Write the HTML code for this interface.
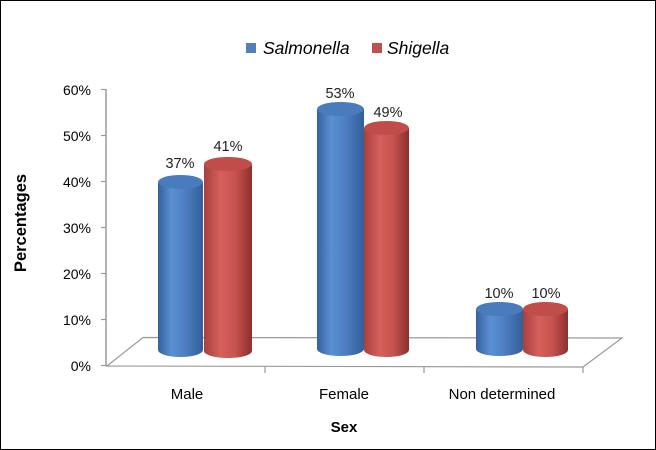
<!DOCTYPE html>
<html><head><meta charset="utf-8">
<style>
html,body{margin:0;padding:0;background:#fff;}
svg{display:block;}
text{font-family:"Liberation Sans",sans-serif;}
</style></head>
<body>
<svg width="656" height="450" viewBox="0 0 656 450" xmlns="http://www.w3.org/2000/svg">
<defs>
<linearGradient id="gb" x1="0" x2="1" y1="0" y2="0">
<stop offset="0" stop-color="#35619e"/>
<stop offset="0.3" stop-color="#5a8fd2"/>
<stop offset="0.55" stop-color="#4f83c6"/>
<stop offset="1" stop-color="#335e9a"/>
</linearGradient>
<linearGradient id="gr" x1="0" x2="1" y1="0" y2="0">
<stop offset="0" stop-color="#a8403d"/>
<stop offset="0.35" stop-color="#d4605c"/>
<stop offset="0.65" stop-color="#c8524f"/>
<stop offset="1" stop-color="#8a302e"/>
</linearGradient>
</defs>
<rect x="0.5" y="0.5" width="655" height="449" fill="#fff" stroke="#000" stroke-width="1"/>

<!-- floor -->
<polygon points="107,366 143,337.5 622,338 583,367" fill="#fff" stroke="#9a9a9a" stroke-width="1.2"/>
<!-- axis -->
<line x1="106" y1="89" x2="106" y2="366" stroke="#9a9a9a" stroke-width="1.5"/>
<g stroke="#9a9a9a" stroke-width="1.2">
<line x1="101" y1="89.5" x2="106" y2="89.5"/>
<line x1="101" y1="135.5" x2="106" y2="135.5"/>
<line x1="101" y1="181.5" x2="106" y2="181.5"/>
<line x1="101" y1="227.5" x2="106" y2="227.5"/>
<line x1="101" y1="273.5" x2="106" y2="273.5"/>
<line x1="101" y1="319.5" x2="106" y2="319.5"/>
<line x1="101" y1="365.5" x2="106" y2="365.5"/>
<line x1="265" y1="366" x2="265" y2="373"/>
<line x1="424" y1="366.5" x2="424" y2="373"/>
<line x1="583" y1="367" x2="583" y2="373"/>
</g>
<g font-size="14" fill="#000" text-anchor="end">
<text x="91" y="95">60%</text>
<text x="91" y="141">50%</text>
<text x="91" y="187">40%</text>
<text x="91" y="233">30%</text>
<text x="91" y="279">20%</text>
<text x="91" y="325">10%</text>
<text x="91" y="371">0%</text>
</g>

<!-- cylinders -->
<path d="M158,182 L158,350 A22.5,7 0 0 0 203,350 L203,182 Z" fill="url(#gb)"/>
<ellipse cx="180.5" cy="182" rx="22.5" ry="7" fill="#4a7bbd"/>
<path d="M204,164 L204,351 A24,7 0 0 0 252,351 L252,164 Z" fill="url(#gr)"/>
<ellipse cx="228" cy="164" rx="24" ry="7" fill="#c04d4a"/>

<path d="M317,109 L317,349 A23.5,7 0 0 0 364,349 L364,109 Z" fill="url(#gb)"/>
<ellipse cx="340.5" cy="109" rx="23.5" ry="7" fill="#4a7bbd"/>
<path d="M364,128 L364,350 A22.5,7 0 0 0 409,350 L409,128 Z" fill="url(#gr)"/>
<ellipse cx="386.5" cy="128" rx="22.5" ry="7" fill="#c04d4a"/>

<path d="M476,309 L476,349 A23.5,7 0 0 0 523,349 L523,309 Z" fill="url(#gb)"/>
<ellipse cx="499.5" cy="309" rx="23.5" ry="7" fill="#4a7bbd"/>
<path d="M523,309 L523,350 A22.5,7 0 0 0 568,350 L568,309 Z" fill="url(#gr)"/>
<ellipse cx="545.5" cy="309" rx="22.5" ry="7" fill="#c04d4a"/>

<!-- data labels -->
<g font-size="14.5" fill="#222" text-anchor="middle">
<text x="180" y="168">37%</text>
<text x="228" y="151">41%</text>
<text x="340" y="98">53%</text>
<text x="388" y="117">49%</text>
<text x="499" y="298">10%</text>
<text x="546" y="298">10%</text>
</g>

<!-- category labels -->
<g font-size="15" fill="#000" text-anchor="middle">
<text x="187" y="399">Male</text>
<text x="344" y="399">Female</text>
<text x="502" y="399">Non determined</text>
</g>
<text x="344" y="432" font-size="15" font-weight="bold" text-anchor="middle">Sex</text>
<text transform="translate(26,223) rotate(-90)" font-size="16.5" font-weight="bold" text-anchor="middle">Percentages</text>

<!-- legend -->
<rect x="246" y="43" width="10" height="10" fill="#4f81bd"/>
<text x="263" y="54" font-size="17.5" font-style="italic" fill="#000">Salmonella</text>
<rect x="372" y="43" width="10" height="10" fill="#c0504d"/>
<text x="387" y="54" font-size="17.5" font-style="italic" fill="#000">Shigella</text>
</svg>
</body></html>
